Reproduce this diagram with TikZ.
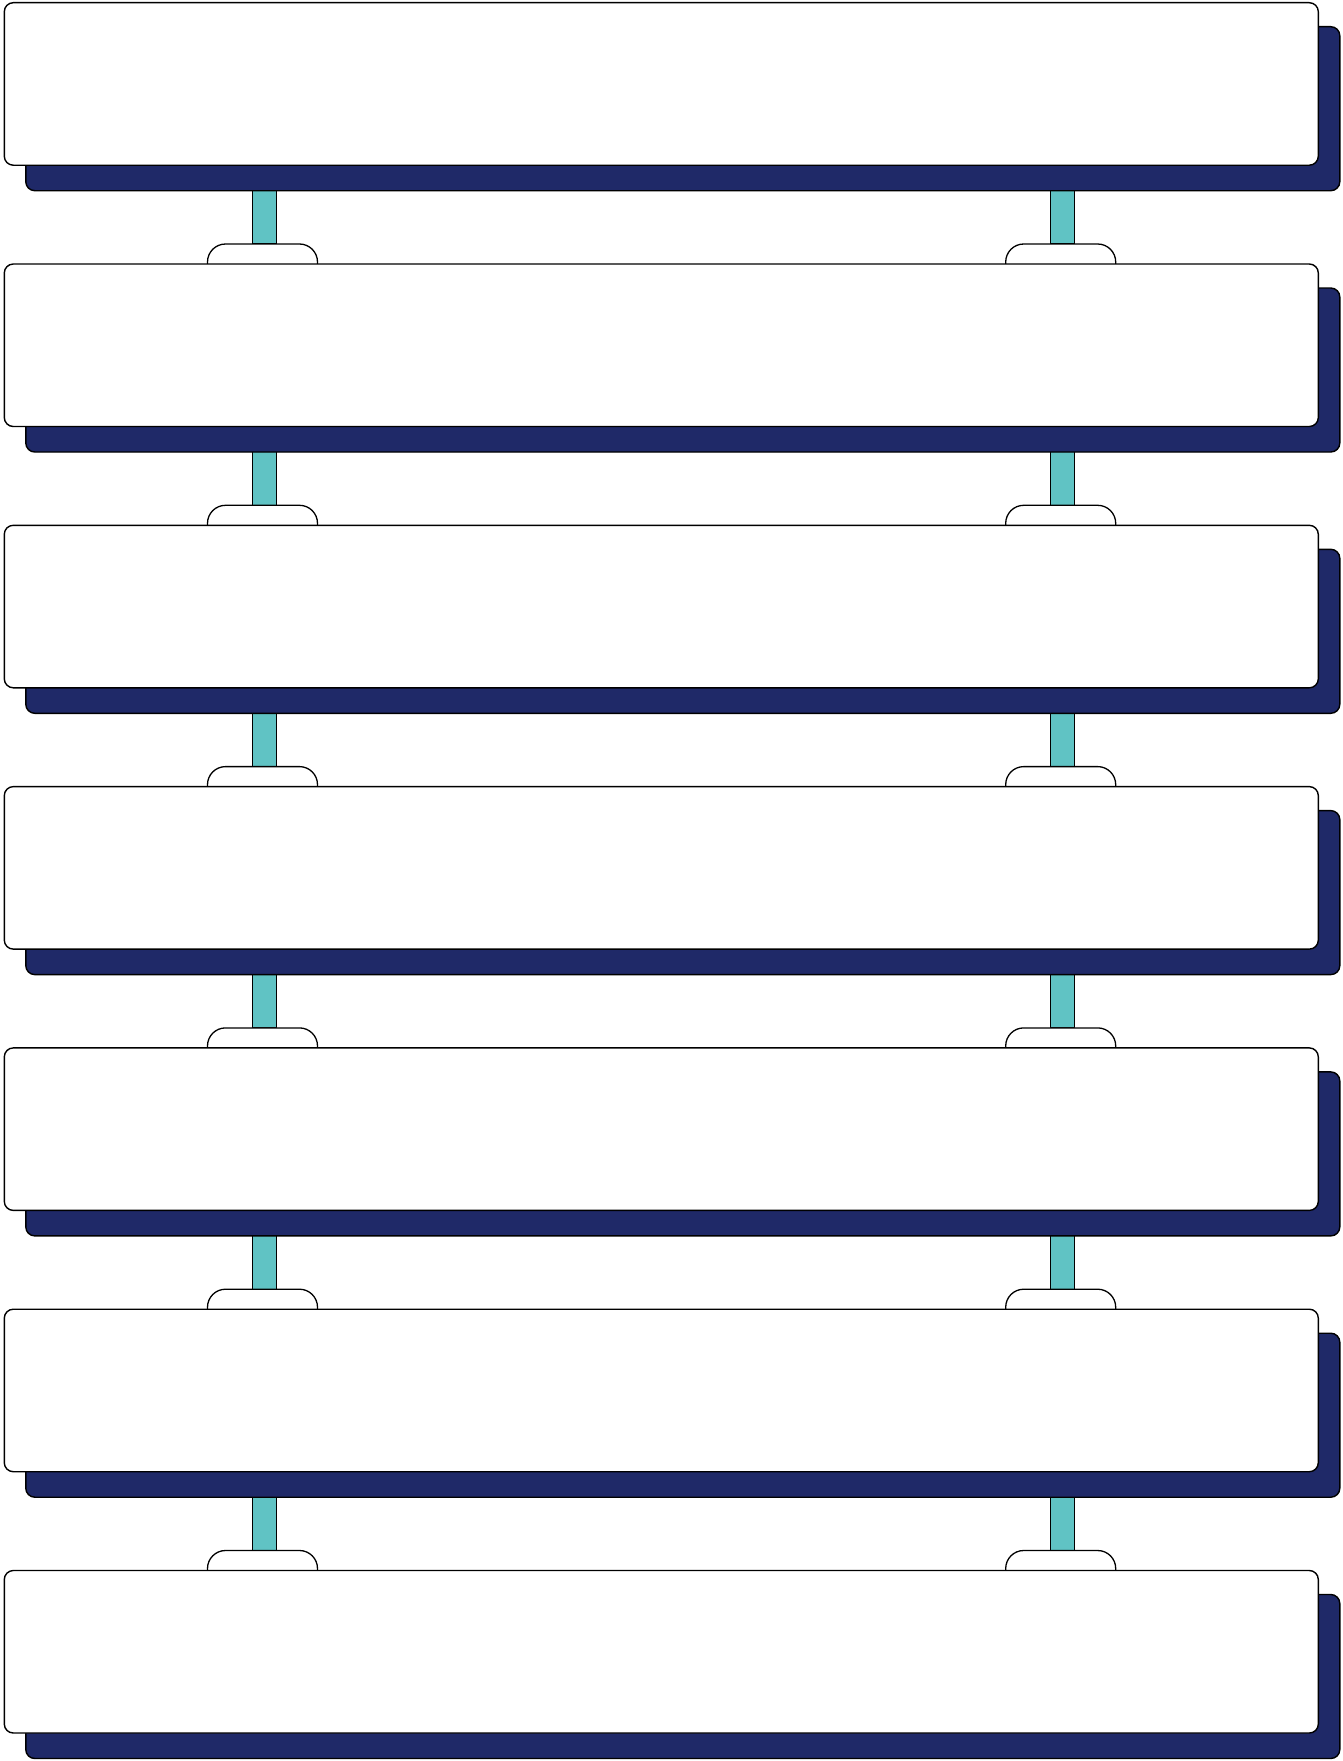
\documentclass[tikz,border=0pt]{standalone}
\usetikzlibrary{calc,backgrounds}
\definecolor{navy}{HTML}{1F2968}
\definecolor{tealpost}{HTML}{60C3C4}
\begin{document}
\begin{tikzpicture}[x=1pt,y=-1pt, line width=1.4pt,
  card/.style={draw=black, fill=white, rounded corners=9pt, minimum width=1314pt,
    minimum height=162.5pt, inner sep=0pt, outer sep=0pt, anchor=north west},
  shadowcard/.style={card, fill=navy, minimum height=164pt},
  post/.style={draw=black, fill=tealpost, line width=1.3pt},
  foot/.style={draw=black, fill=white, rounded corners=18pt, line width=1.3pt}]
\useasboundingbox (0,0) rectangle (1342,1761);
\foreach \i in {0,...,6} {
  \pgfmathsetmacro\yy{2.7+261.3*\i}
  \node[shadowcard] (s\i) at (25.8,\yy+24) {};
  \node[card] (b\i) at (4.3,\yy) {};
}
\begin{pgfonlayer}{background}
\foreach \i [evaluate=\i as \j using int(\i+1)] in {0,...,5} {
  \path let \p1=(s\i.south), \p2=(b\j.north) in
    [post] (252.7pt,\y1+4pt) rectangle (276.7pt,\y2+20pt)
    [post] (1050.7pt,\y1+4pt) rectangle (1074.7pt,\y2+20pt);
  \path let \p2=(b\j.north) in
    [foot] (207.5pt,\y2) -- (207.5pt,\y2+20pt) -- (317.5pt,\y2+20pt) -- (317.5pt,\y2)
    [foot] (1005.7pt,\y2) -- (1005.7pt,\y2+20pt) -- (1115.7pt,\y2+20pt) -- (1115.7pt,\y2);
}
\end{pgfonlayer}
\end{tikzpicture}
\end{document}
